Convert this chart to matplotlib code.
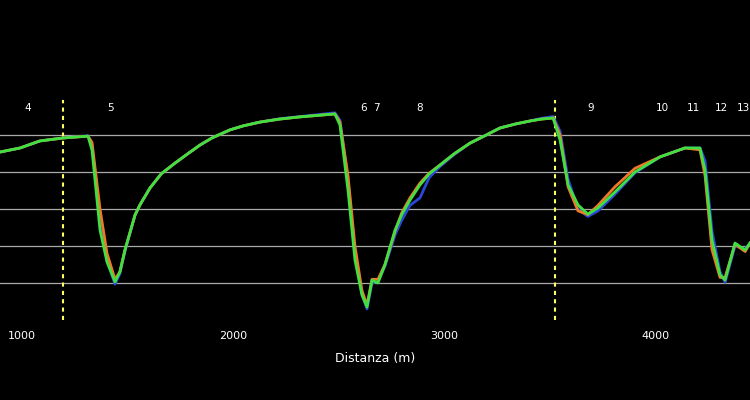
import matplotlib
matplotlib.use("Agg")
import matplotlib.pyplot as plt

dist = [896, 991, 1085, 1194, 1313, 1332, 1370, 1403, 1441, 1464, 1488, 1536, 1560,
        1607, 1660, 1725, 1780, 1844, 1900, 1986, 2050, 2128, 2220, 2317, 2400, 2483,
        2507, 2545, 2578, 2611, 2635, 2659, 2687, 2720, 2768, 2800, 2839, 2886, 2930,
        2981, 3050, 3123, 3200, 3265, 3340, 3408, 3460, 3517, 3550, 3588, 3635, 3682,
        3730, 3810, 3905, 4024, 4142, 4213, 4237, 4270, 4308, 4332, 4379, 4427, 4450]
green = [4.54, 4.65, 4.84, 4.92, 4.97, 4.59, 2.43, 1.57, 1.03, 1.30, 1.89, 2.84, 3.12,
         3.57, 3.95, 4.24, 4.47, 4.73, 4.92, 5.14, 5.25, 5.35, 5.43, 5.49, 5.53, 5.57,
         5.27, 3.51, 1.62, 0.68, 0.35, 1.08, 1.00, 1.49, 2.43, 2.85, 3.24, 3.65, 3.95,
         4.19, 4.50, 4.78, 5.00, 5.19, 5.30, 5.38, 5.43, 5.46, 4.86, 3.65, 3.11, 2.86,
         3.03, 3.46, 4.00, 4.41, 4.65, 4.65, 4.05, 2.16, 1.22, 1.08, 2.08, 1.89, 2.08]
blue = [4.54, 4.65, 4.84, 4.92, 4.98, 4.75, 2.70, 1.60, 0.97, 1.25, 1.85, 2.84, 3.12,
        3.57, 3.95, 4.24, 4.47, 4.73, 4.92, 5.14, 5.25, 5.35, 5.44, 5.50, 5.55, 5.60,
        5.40, 3.80, 1.80, 0.70, 0.30, 1.00, 1.05, 1.45, 2.30, 2.70, 3.10, 3.30, 3.85,
        4.15, 4.48, 4.78, 5.00, 5.19, 5.30, 5.38, 5.45, 5.50, 5.10, 3.80, 3.00, 2.80,
        2.95, 3.40, 3.98, 4.41, 4.65, 4.65, 4.30, 2.40, 1.30, 1.02, 2.00, 1.92, 2.08]
orange = [4.54, 4.65, 4.84, 4.92, 4.97, 4.80, 3.00, 1.80, 1.10, 1.30, 1.89, 2.84, 3.12,
          3.57, 3.95, 4.24, 4.47, 4.73, 4.92, 5.14, 5.25, 5.35, 5.43, 5.49, 5.53, 5.57,
          5.35, 3.90, 2.00, 0.80, 0.40, 1.10, 1.10, 1.50, 2.40, 2.90, 3.30, 3.70, 3.97,
          4.19, 4.50, 4.78, 5.00, 5.19, 5.30, 5.38, 5.43, 5.46, 5.00, 3.60, 2.95, 2.85,
          3.10, 3.60, 4.10, 4.41, 4.65, 4.60, 3.90, 1.90, 1.15, 1.15, 2.05, 1.85, 2.08]
lap_pos = [1028, 1418, 2620, 2681, 2885, 3696, 4037, 4184, 4317, 4417]
lap_lab = ["4", "5", "6", "7", "8", "9", "10", "11", "12", "13"]
sectors = [1194, 3526]

fig = plt.figure(figsize=(7.5, 4), dpi=100, facecolor="black")
ax = fig.add_axes([0, 0.2, 1, 0.8], facecolor="black")
for g in [1, 2, 3, 4, 5]:
    ax.axhline(g, color="#aaaaaa", lw=0.9, zorder=1)
for s in sectors:
    ax.plot([s, s], [0, 5.95], color="#ffff60", lw=1.5, ls=(0, (2, 2)), zorder=2)
ax.plot(dist, blue, color="#2848d8", lw=2, zorder=3)
ax.plot(dist, orange, color="#f07828", lw=2, zorder=4)
ax.plot(dist, green, color="#40e040", lw=2, zorder=5)
for p, l in zip(lap_pos, lap_lab):
    ax.text(p, 5.73, l, color="white", fontsize=7.5, ha="center", va="center")
ax.set_xlim(896, 4450)
ax.set_ylim(0, 8.65)
ax.set_yticks([])
ax.set_xticks([1000, 2000, 3000, 4000])
ax.tick_params(axis="x", colors="white", labelsize=8, length=0, pad=8)
for sp in ax.spines.values():
    sp.set_visible(False)
ax.set_xlabel("Distanza (m)", color="white", fontsize=9, labelpad=8)
fig.savefig("out.png", facecolor="black")
